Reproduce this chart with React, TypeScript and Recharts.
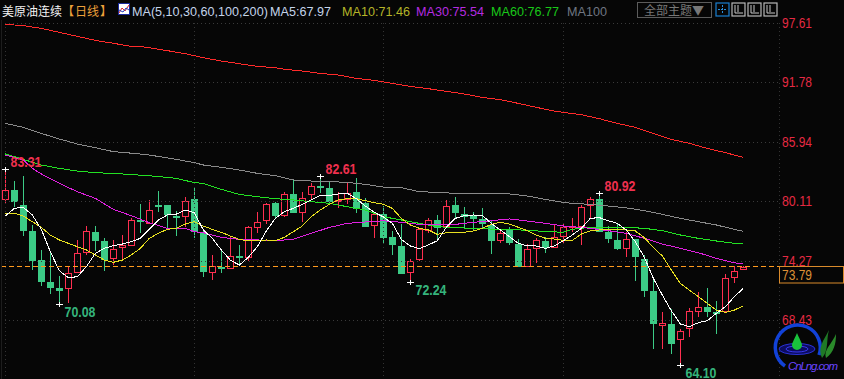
import React from "react";
import { ComposedChart, Bar, Line, XAxis, YAxis, ReferenceLine, ReferenceDot } from "recharts";

const opens = [80.33,81.24,79.77,77.22,74.37,72.22,71.63,71.70,73.13,75.09,77.12,76.24,74.54,75.62,75.84,78.30,77.97,79.77,79.74,78.69,78.62,80.35,77.09,73.13,73.69,73.52,74.77,74.64,77.54,78.23,79.93,78.76,80.85,79.01,80.78,81.63,81.43,80.09,80.33,81.01,79.99,77.77,78.88,76.60,75.75,73.13,74.44,77.32,78.27,77.64,79.77,78.88,78.76,78.39,77.81,76.27,77.32,75.94,73.79,75.48,76.24,75.68,76.66,77.64,77.71,79.74,80.35,77.12,76.34,75.52,76.40,74.47,71.33,68.00,68.10,66.60,67.64,69.31,69.74,69.28,69.37,72.78,73.49];
const closes = [81.21,80.09,77.25,74.31,72.22,71.63,71.36,73.13,75.03,77.19,76.24,74.37,75.42,75.84,78.27,78.10,79.25,79.70,78.79,78.59,80.13,77.15,73.13,73.76,73.59,74.74,74.57,77.58,78.07,79.84,78.69,80.81,79.01,80.42,81.60,81.43,80.09,80.23,80.91,79.35,77.64,78.85,76.53,75.84,73.03,74.25,77.38,78.27,77.51,79.64,78.98,78.62,78.39,77.93,76.27,76.99,76.07,73.72,75.42,76.31,75.58,76.66,77.58,77.74,79.60,80.33,77.12,76.40,75.48,76.40,74.60,71.36,68.13,68.17,66.17,67.38,69.35,69.74,69.28,69.15,72.64,73.33,73.66];
const highs = [83.31,82.15,82.61,77.81,75.35,75.06,72.81,73.82,76.34,77.71,77.71,76.53,76.34,76.82,78.46,79.87,80.26,81.11,79.77,79.21,80.58,81.40,77.32,74.86,75.35,76.60,75.84,77.71,79.08,79.93,80.09,81.07,82.22,81.07,81.89,82.61,82.05,81.07,81.99,82.39,80.42,78.95,79.67,77.22,77.90,74.44,77.38,78.46,78.76,80.26,80.55,79.57,79.08,79.47,78.30,77.32,77.58,76.40,75.91,76.50,76.66,77.81,77.97,78.46,79.77,80.58,80.92,77.71,77.97,77.15,76.40,74.86,72.48,69.25,69.54,67.58,69.64,71.21,71.66,70.35,72.97,73.82,73.79];
const lows = [79.93,79.60,76.76,73.39,71.82,71.04,70.08,70.19,73.13,74.89,75.23,73.33,73.88,74.37,75.81,76.99,77.90,79.05,77.48,76.73,77.64,76.53,72.74,72.41,73.13,73.46,73.88,74.28,77.05,77.90,78.52,78.62,78.95,78.13,80.35,80.97,79.77,79.44,79.87,79.01,77.64,76.56,75.94,74.86,72.98,72.24,74.31,77.05,76.27,77.58,78.42,77.38,77.25,77.44,74.96,76.07,75.84,73.66,73.72,74.11,75.03,75.55,76.07,77.15,75.87,78.46,77.09,76.07,75.35,74.70,72.35,70.78,65.65,65.65,65.16,64.10,66.85,68.82,68.82,67.09,69.15,72.15,73.49];

const ma5 = [78.69,79.44,79.54,78.79,77.38,75.19,73.33,72.64,72.74,73.72,75.03,75.52,75.78,75.94,76.17,76.50,77.38,78.30,78.79,78.88,79.28,79.02,77.32,76.50,75.36,74.37,73.88,74.64,75.68,77.22,78.46,79.11,79.44,79.83,80.26,80.71,80.71,80.85,80.91,80.39,79.67,79.05,78.60,77.97,76.40,75.75,75.49,75.85,76.27,77.58,78.46,78.72,78.79,78.75,77.97,77.32,76.66,76.01,75.75,75.75,75.52,75.75,76.27,76.83,77.48,78.46,78.53,78.23,77.97,77.32,76.17,74.64,72.58,70.94,69.41,68.10,67.84,68.23,68.43,69.15,69.80,70.78,71.60];
const ma10 = [78.95,78.95,78.69,78.13,77.57,76.82,76.34,76.01,75.68,75.36,74.87,74.37,74.15,74.37,74.87,75.52,76.50,76.99,77.38,77.48,77.90,78.13,77.71,77.38,77.09,76.73,76.40,76.24,76.27,76.34,76.27,76.60,77.15,77.71,78.62,79.28,79.83,80.26,80.39,80.39,80.19,79.99,79.85,79.44,78.46,77.81,77.48,77.32,76.89,77.05,77.09,77.09,77.22,77.48,77.87,78.07,77.90,77.58,77.25,76.83,76.50,76.43,76.30,76.30,76.92,77.22,77.32,77.32,77.38,77.32,77.22,76.56,75.62,74.77,73.39,72.09,71.43,70.78,70.13,69.47,69.24,69.47,69.87];
const ma30: number[][] = [[0,84.67],[2,84.18],[3,83.36],[4,82.81],[6,81.89],[8,81.07],[10,80.42],[12,79.34],[14,78.72],[16,78.03],[18,77.48],[20,77.48],[21,77.15],[22,77.05],[24,76.60],[26,76.40],[28,76.34],[30,76.27],[32,76.40],[34,76.99],[36,77.57],[38,77.97],[40,78.10],[42,78.22],[44,78.07],[46,77.87],[48,77.87],[50,77.87],[52,78.07],[54,78.23],[56,78.40],[58,78.20],[60,77.97],[62,77.71],[63,77.64],[65,77.48],[67,77.25],[69,76.99],[71,76.50],[73,75.94],[75,75.52],[77,75.09],[79,74.54],[81,74.11],[82,73.98]];
const ma60: number[][] = [[0,84.77],[2,84.24],[4,83.69],[6,83.36],[8,83.10],[10,82.94],[13,82.81],[16,82.64],[19,82.38],[21,81.96],[22,81.89],[24,81.30],[26,80.81],[28,80.58],[30,80.39],[32,80.26],[34,80.09],[36,79.93],[38,79.60],[40,79.28],[42,78.62],[44,78.30],[46,77.97],[48,77.64],[50,77.54],[52,77.48],[54,77.41],[56,77.38],[58,77.28],[60,77.18],[62,77.09],[63,77.38],[65,77.58],[67,77.58],[69,77.58],[71,77.48],[73,77.25],[75,76.83],[77,76.50],[79,76.24],[81,76.01],[82,76.01]];
const ma100: number[][] = [[0,87.77],[2,87.38],[4,86.79],[6,86.24],[8,85.75],[10,85.39],[12,85.00],[14,84.85],[16,84.67],[19,84.24],[21,83.92],[22,83.69],[24,83.46],[26,83.20],[28,82.87],[30,82.64],[32,82.22],[34,82.12],[36,82.06],[38,81.99],[40,81.79],[42,81.53],[44,81.47],[46,81.07],[48,81.01],[50,80.91],[52,80.91],[54,80.91],[56,80.85],[58,80.65],[60,80.32],[62,80.03],[63,79.93],[65,79.83],[67,79.67],[69,79.49],[71,79.21],[73,78.85],[75,78.46],[77,78.13],[79,77.81],[81,77.38],[82,77.19]];
const ma200: number[][] = [[0,97.48],[2,97.35],[4,97.09],[6,96.69],[8,96.30],[10,95.91],[12,95.62],[14,95.32],[15,95.32],[18,94.90],[20,94.60],[22,94.21],[24,93.88],[26,93.62],[28,93.36],[30,93.23],[31,93.07],[33,92.90],[35,92.67],[37,92.51],[39,92.18],[41,91.99],[43,91.69],[45,91.40],[47,91.17],[49,90.91],[51,90.65],[53,90.32],[55,90.09],[57,89.73],[59,89.34],[61,88.98],[62,88.85],[64,88.62],[66,88.23],[68,87.77],[70,87.38],[72,86.79],[74,86.20],[76,85.81],[78,85.32],[80,84.90],[82,84.44]];

const priceTicks = [97.61, 91.78, 85.94, 80.11, 74.27, 68.43];
const lastPrice = 73.79;
const extremes = [
  { i: 0, v: 83.31, up: true },
  { i: 6, v: 70.08, up: false },
  { i: 35, v: 82.61, up: true },
  { i: 45, v: 72.24, up: false },
  { i: 66, v: 80.92, up: true },
  { i: 75, v: 64.10, up: false },
];
const gridCols = [0, 21, 42, 62, 86];
const seriesHeader = [
  { t: "MA(5,10,30,60,100,200)", x: 132, c: "#c4d4ea" },
  { t: "MA5:67.97", x: 270, c: "#c4d4ea" },
  { t: "MA10:71.46", x: 342, c: "#b4b428" },
  { t: "MA30:75.54", x: 416, c: "#b52be0" },
  { t: "MA60:76.77", x: 491, c: "#19c819" },
  { t: "MA100", x: 567, c: "#6f7682" },
];

const SLOTS = 87;
const pick = (list: number[][], i: number) => {
  const hit = list.find((p) => p[0] === i);
  return hit ? hit[1] : null;
};
const rows = Array.from({ length: SLOTS }, (_, i) => {
  const has = i < opens.length;
  return {
    i,
    range: has ? [lows[i], highs[i]] : null,
    open: has ? opens[i] : null,
    close: has ? closes[i] : null,
    ma5: has ? ma5[i] : null,
    ma10: has ? ma10[i] : null,
    ma30: pick(ma30, i),
    ma60: pick(ma60, i),
    ma100: pick(ma100, i),
    ma200: pick(ma200, i),
  };
});

const RED = "#ff2f50";
const GREEN = "#3ccb86";
const BG = "#060606";

const Candle = (p: any) => {
  const { x, y, width, height, payload } = p;
  if (!payload || !payload.range) return null;
  const [low, high] = payload.range;
  const k = height / (high - low);
  const top = y + (high - Math.max(payload.open, payload.close)) * k;
  const bot = y + (high - Math.min(payload.open, payload.close)) * k;
  const up = payload.close >= payload.open;
  const cx = Math.floor(x + width / 2) + 0.5;
  const color = up ? RED : GREEN;
  const b = Math.max(bot - top, 1);
  return (
    <g shapeRendering="crispEdges">
      <line x1={cx} x2={cx} y1={y} y2={y + height} stroke={color} strokeWidth={1} />
      {up ? (
        <rect x={cx - 3} y={Math.round(top) + 0.5} width={6} height={Math.max(Math.round(b), 1)} fill={BG} stroke={color} strokeWidth={1} />
      ) : (
        <rect x={cx - 3.5} y={Math.round(top)} width={7} height={Math.max(Math.round(b), 2)} fill={color} />
      )}
    </g>
  );
};

const Extreme = (up: boolean, v: number) => (p: any) => {
  const cx = Math.floor(p.cx) + 0.5;
  const cy = Math.round(p.cy) + 0.5;
  return (
    <g>
      <path d={`M${cx - 3.5} ${cy}H${cx + 3.5}M${cx} ${cy - 2.5}V${cy + 2.5}`} stroke="#fff" strokeWidth={1} shapeRendering="crispEdges" />
      <text x={cx + 5} y={up ? cy - 3 : cy + 12} fill={up ? "#f0304e" : "#35b47c"} fontFamily="Liberation Sans" fontWeight={700} fontSize={14} textLength={31} lengthAdjust="spacingAndGlyphs">
        {v.toFixed(2)}
      </text>
    </g>
  );
};

const PriceTick = (p: any) => (
  <text x={782} y={p.y + 4.5} fill="#e52a43" fontFamily="Liberation Sans" fontSize={14} textLength={30} lengthAdjust="spacingAndGlyphs">
    {p.payload.value.toFixed(2)}
  </text>
);

const LastPriceShape = (p: any) => (
  <line x1={1} x2={779} y1={Math.round(p.y1 ?? p.y ?? 0) + 0.5} y2={Math.round(p.y2 ?? p.y ?? 0) + 0.5} stroke="#ff9a1e" strokeWidth={1} strokeDasharray="5 3" shapeRendering="crispEdges" />
);

const MaLine = (key: string, color: string) => (
  <Line key={key} dataKey={key} stroke={color} strokeWidth={1} dot={false} activeDot={false} connectNulls isAnimationActive={false} shapeRendering="crispEdges" />
);

const Overlay = () => (
  <svg width={844} height={379} style={{ position: "absolute", left: 0, top: 0, pointerEvents: "none" }}>
    <line x1={1.5} x2={1.5} y1={20} y2={379} stroke="#1d1d1d" />
    <text x={2} y={16} fill="#f2f2f2" fontFamily="Noto Sans CJK SC" fontSize={12}>美原油连续</text>
    <text x={62} y={16} fill="#eda03a" fontFamily="Noto Sans CJK SC" fontSize={12}>【</text>
    <text x={75} y={16} fill="#eda03a" fontFamily="Noto Sans CJK SC" fontSize={12}>日线</text>
    <text x={100} y={16} fill="#eda03a" fontFamily="Noto Sans CJK SC" fontSize={12}>】</text>
    <rect x={118.5} y={3.5} width={11} height={11} fill="#fff" stroke="#1a2a9c" />
    <path d="M119 13L122 8L125 11L129 5" stroke="#d8202a" fill="none" />
    <path d="M119 10L123 12L126 8L129 10" stroke="#2040c0" fill="none" />
    {seriesHeader.map((s) => (
      <text key={s.t} x={s.x} y={16} fill={s.c} fontFamily="Liberation Sans" fontSize={12.6}>{s.t}</text>
    ))}
    <rect x={637.5} y={2.5} width={74} height={15} fill="none" stroke="#5c5c5c" />
    <text x={644} y={15} fill="#777" fontFamily="Noto Sans CJK SC" fontSize={12}>全部主题▼</text>
    <rect x={716} y={3} width={13} height={13} fill="none" stroke="#1a7fd0" strokeWidth={1.2} />
    <path d="M722.5 5V14M718 9.5H727" stroke="#2a90e0" strokeDasharray="2 1" />
    {[732, 748, 764].map((x) => (
      <g key={x}>
        <rect x={x} y={3} width={13} height={13} fill="none" stroke="#b8b8b8" strokeWidth={1.2} />
        <path d={`M${x + 3} 5V13H${x + 11}M${x + 6} 5V12`} stroke="#c8c8c8" fill="none" />
      </g>
    ))}
    <rect x={779.5} y={266.5} width={64} height={16.5} fill={BG} stroke="#d98a2b" />
    <text x={782} y={279.5} fill="#dd9137" fontFamily="Liberation Sans" fontSize={14} textLength={30} lengthAdjust="spacingAndGlyphs">73.79</text>
    <g>
      <path d="M785 366A22.5 22.5 0 1 1 819 355" stroke="#1242d8" strokeWidth={3.5} fill="none" />
      <ellipse cx={797} cy={349} rx={18} ry={5.5} fill="#0c0c60" stroke="#2a32d8" />
      <ellipse cx={797} cy={349} rx={11} ry={3} fill="none" stroke="#3a3af0" />
      <path d="M797 333C794 340 792 343 792 345A5 5 0 0 0 802 345C802 343 800 340 797 333Z" fill="#19c23c" />
      <path d="M822 358C817 348 824 340 829 330C826 340 829 350 822 358Z" fill="#1f7a26" />
      <path d="M826 358C823 350 832 344 836 334C836 344 834 352 826 358Z" fill="#2a8a2a" />
      <text x={788} y={370} fill="#6a45ff" fontFamily="Liberation Sans" fontStyle="italic" fontSize={11.5} textLength={50}>CnLng.com</text>
    </g>
  </svg>
);

export default function App() {
  return (
    <div style={{ position: "absolute", left: 0, top: 0, width: 844, height: 379, background: BG, overflow: "hidden" }}>
      <ComposedChart width={844} height={379} data={rows} margin={{ top: 0, right: 0, bottom: 0, left: 0.83 }} barCategoryGap={0} barGap={0}>
        <XAxis dataKey="i" hide />
        <YAxis
          orientation="right"
          width={60.17}
          domain={[62.71, 99.865]}
          ticks={priceTicks}
          interval={0}
          allowDataOverflow
          axisLine={false}
          tickLine={false}
          tick={PriceTick}
        />
        {priceTicks.map((t) => (
          <ReferenceLine key={t} segment={[{ x: 0, y: t }, { x: 86, y: t }]} stroke="#3a3a3a" strokeDasharray="1 3" shapeRendering="crispEdges" />
        ))}
        {gridCols.map((c) => (
          <ReferenceLine key={c} segment={[{ x: c, y: 97.61 }, { x: c, y: 62.71 }]} stroke="#333" strokeDasharray="1 3" shapeRendering="crispEdges" />
        ))}
        <Bar dataKey="range" shape={Candle} isAnimationActive={false} />
        {MaLine("ma200", "#ff2a2a")}
        {MaLine("ma100", "#8a8a8a")}
        {MaLine("ma60", "#22e022")}
        {MaLine("ma30", "#e020e0")}
        {MaLine("ma10", "#e8e020")}
        {MaLine("ma5", "#ffffff")}
        <ReferenceLine y={lastPrice} shape={LastPriceShape} />
        {extremes.map((e) => (
          <ReferenceDot key={e.i} x={e.i} y={e.v} r={0} shape={Extreme(e.up, e.v)} ifOverflow="visible" />
        ))}
      </ComposedChart>
      <Overlay />
    </div>
  );
}
